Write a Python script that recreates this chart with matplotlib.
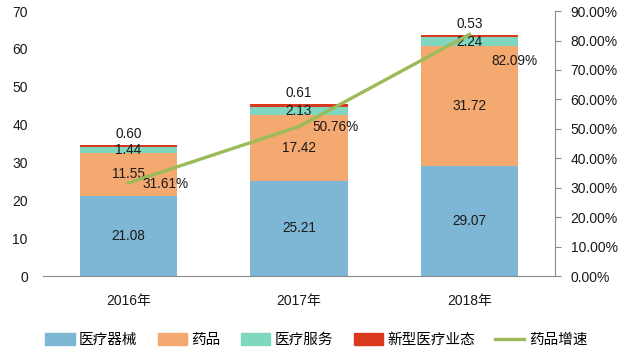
import numpy as np
import matplotlib
matplotlib.use("Agg")
import matplotlib.pyplot as plt
from matplotlib.patches import Patch
from matplotlib.lines import Line2D

plt.rcParams['font.family'] = ['Liberation Sans', 'Noto Sans CJK SC']

years = ["2016年", "2017年", "2018年"]
devices = [21.08, 25.21, 29.07]      # 医疗器械
drugs = [11.55, 17.42, 31.72]        # 药品
services = [1.44, 2.13, 2.24]        # 医疗服务
new_types = [0.60, 0.61, 0.53]       # 新型医疗业态
drug_growth = [31.61, 50.76, 82.09]  # 药品增速 (%)

c_blue = "#7EB7D6"
c_orange = "#F3A970"
c_teal = "#80D7BF"
c_red = "#D93A1E"
c_green = "#9BBB59"
txt = "#1a1a1a"

fig = plt.figure(figsize=(6.24, 3.58), dpi=100)
ax = fig.add_axes([0.069, 0.229, 0.82, 0.740])

x = np.arange(len(years))
w = 0.57
b1 = np.array(devices)
b2 = b1 + np.array(drugs)
b3 = b2 + np.array(services)
ax.bar(x, devices, w, color=c_blue, zorder=2)
ax.bar(x, drugs, w, bottom=b1, color=c_orange, zorder=2)
ax.bar(x, services, w, bottom=b2, color=c_teal, zorder=2)
ax.bar(x, new_types, w, bottom=b3, color=c_red, zorder=2)

fs = 9.8
for i in range(len(years)):
    ax.text(x[i], devices[i] / 2, f"{devices[i]:.2f}", ha="center", va="center", fontsize=fs, color=txt, zorder=5)
    ax.text(x[i], b1[i] + drugs[i] / 2, f"{drugs[i]:.2f}", ha="center", va="center", fontsize=fs, color=txt, zorder=5)
    ax.text(x[i], b2[i] + services[i] / 2, f"{services[i]:.2f}", ha="center", va="center", fontsize=fs, color=txt, zorder=5)
    ax.annotate(f"{new_types[i]:.2f}", (x[i], b3[i] + new_types[i]), xytext=(0, 3),
                textcoords="offset points", ha="center", va="bottom", fontsize=fs, color=txt, zorder=5)

ax.set_xlim(-0.5, 2.5)
ax.set_ylim(0, 70)
ax.set_yticks(range(0, 71, 10))
ax.set_xticks(x)
ax.set_xticklabels(years)
ax.tick_params(axis="x", length=0, pad=13, labelsize=10, colors=txt)
ax.tick_params(axis="y", length=0, pad=11, labelsize=10, colors=txt)
for s in ["top", "right", "left"]:
    ax.spines[s].set_visible(False)
ax.spines["bottom"].set_color("#8c8c8c")

ax2 = ax.twinx()
ax2.plot(x, drug_growth, color=c_green, lw=2.4, zorder=4)
ax2.set_ylim(0, 90)
ax2.set_yticks(range(0, 91, 10))
ax2.set_yticklabels([f"{v:.2f}%" for v in range(0, 91, 10)])
ax2.tick_params(axis="y", length=4.5, width=0.8, pad=7, labelsize=10, labelcolor=txt, color="#8c8c8c")
for s in ["top", "left", "bottom"]:
    ax2.spines[s].set_visible(False)
ax2.spines["right"].set_color("#8c8c8c")

offsets = [(10, -1), (10, 0), (16, -19)]
for i in range(len(years)):
    ax2.annotate(f"{drug_growth[i]:.2f}%", (x[i], drug_growth[i]), xytext=offsets[i],
                 textcoords="offset points", ha="left", va="center", fontsize=fs, color=txt, zorder=6)

handles = [Patch(color=c_blue), Patch(color=c_orange), Patch(color=c_teal), Patch(color=c_red),
           Line2D([0], [0], color=c_green, lw=2.4)]
labels = ["医疗器械", "药品", "医疗服务", "新型医疗业态", "药品增速"]
fig.legend(handles, labels, loc="center", bbox_to_anchor=(0.507, 0.05), ncol=5, frameon=False,
           fontsize=10.5, handlelength=2.0, handleheight=0.9, handletextpad=0.3, columnspacing=1.4)

fig.savefig("out.png", dpi=100)
